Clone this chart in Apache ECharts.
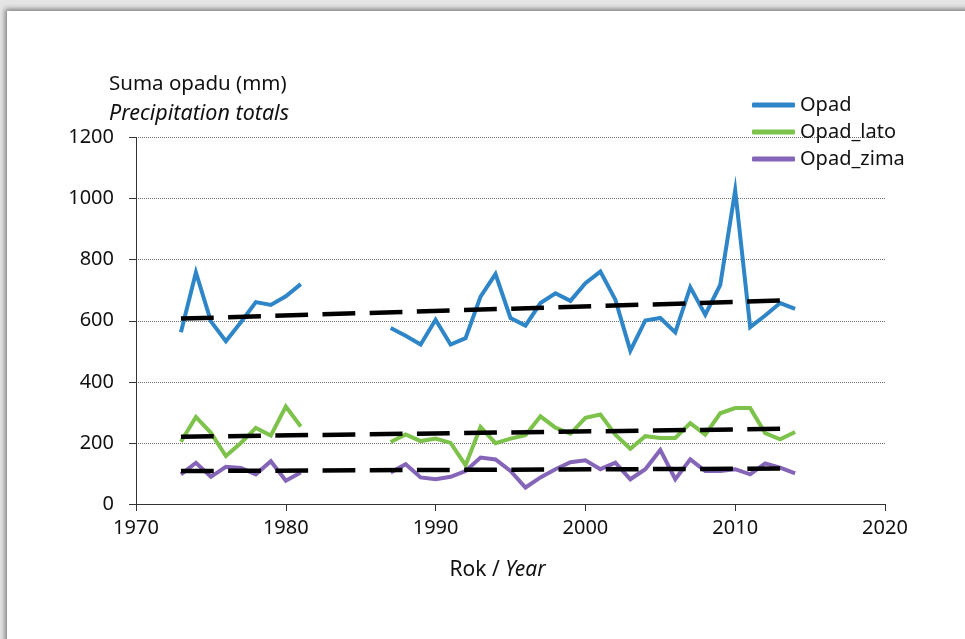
<!DOCTYPE html>
<html>
<head>
<meta charset="utf-8">
<script src="https://cdn.jsdelivr.net/npm/echarts@6/dist/echarts.min.js"></script>
<style>
  html, body { margin: 0; padding: 0; width: 965px; height: 639px; overflow: hidden; background: #e4e4e4; }
  #card { position: absolute; left: 7px; top: 11px; width: 970px; height: 640px; background: #fff;
          box-shadow: -2px -2px 5px rgba(0,0,0,0.45); }
  #chart { position: absolute; left: 0; top: 0; width: 965px; height: 639px; }
</style>
</head>
<body>
<div id="card"></div>
<div id="chart"></div>
<script>
// Years of record; 1982–1986 are missing (null)
const years = [1973,1974,1975,1976,1977,1978,1979,1980,1981,1982,1983,1984,1985,1986,
  1987,1988,1989,1990,1991,1992,1993,1994,1995,1996,1997,1998,1999,2000,
  2001,2002,2003,2004,2005,2006,2007,2008,2009,2010,2011,2012,2013,2014];

// Annual precipitation totals (mm)
const opad = [562,758,598,533,595,661,652,680,720,null,null,null,null,null,
  576,551,522,603,522,543,679,753,609,584,658,690,665,723,
  761,669,502,601,609,562,710,620,717,1027,579,617,658,639];

// Summer half-year totals (mm)
const opadLato = [204,285,233,157,200,249,224,319,254,null,null,null,null,null,
  203,228,206,214,200,127,252,199,214,225,287,250,230,282,
  293,227,181,222,216,216,265,227,297,314,314,232,212,236];

// Winter half-year totals (mm)
const opadZima = [97,135,89,122,118,97,140,76,103,null,null,null,null,null,
  103,130,87,81,89,108,152,146,108,54,87,114,137,143,
  114,135,81,114,177,81,146,108,108,114,97,133,119,100];

// Linear trend end points [year, mm]
const trendOpad = [[1973, 607], [2013, 666]];
const trendLato = [[1973, 220], [2013, 246]];
const trendZima = [[1973, 108], [2013, 116]];

// Axis ticks
const xTicks = [1970, 1980, 1990, 2000, 2010, 2020];
const yTicks = [0, 200, 400, 600, 800, 1000, 1200];

const seriesNames = ['Opad', 'Opad_lato', 'Opad_zima'];
const seriesColors = ['#2e86c9', '#7dc24a', '#8565b8'];

const pair = vals => years.map((y, i) => [y, vals[i] === null ? '-' : vals[i]]);

const FONT = 'Noto Sans';

const lineSeries = [opad, opadLato, opadZima].map((vals, i) => ({
  name: seriesNames[i],
  type: 'line',
  data: pair(vals),
  symbol: 'none',
  connectNulls: false,
  lineStyle: { width: 4, color: seriesColors[i], join: 'miter' },
  itemStyle: { color: seriesColors[i] },
  z: 2
}));

const trendSeries = [trendOpad, trendLato, trendZima].map((pts, i) => ({
  name: 'trend_' + i,
  type: 'line',
  data: pts,
  symbol: 'none',
  silent: true,
  lineStyle: { width: 4.5, color: '#000', type: [32.8, 14.4], cap: 'butt' },
  z: 3
}));

const chart = echarts.init(document.getElementById('chart'), null, { renderer: 'canvas' });
chart.setOption({
  animation: false,
  backgroundColor: 'transparent',
  textStyle: { fontFamily: FONT },
  title: {
    left: 109, top: 72, padding: 0, itemGap: 6,
    text: 'Suma opadu (mm)',
    subtext: 'Precipitation totals',
    textStyle: { fontFamily: FONT, fontSize: 20.5, fontWeight: 'normal', color: '#111', lineHeight: 24 },
    subtextStyle: { fontFamily: FONT, fontSize: 21.5, fontStyle: 'italic', color: '#111', lineHeight: 24 }
  },
  legend: {
    data: seriesNames,
    orient: 'vertical',
    left: 752, top: 95,
    padding: 0,
    itemWidth: 43, itemHeight: 5, itemGap: 7,
    icon: 'roundRect',
    textStyle: { fontFamily: FONT, fontSize: 20, color: '#111', lineHeight: 20 }
  },
  grid: { left: 136, right: 80, top: 137.5, bottom: 135, containLabel: false },
  xAxis: {
    type: 'value',
    min: xTicks[0], max: xTicks[xTicks.length - 1], interval: 10,
    name: '{a|Rok / }{b|Year}',
    nameLocation: 'middle', nameGap: 56,
    nameTextStyle: {
      padding: [0, 26, 0, 0],
      rich: {
        a: { fontFamily: FONT, fontSize: 21, color: '#111' },
        b: { fontFamily: FONT, fontSize: 21, color: '#111', fontStyle: 'italic' }
      }
    },
    axisLine: { show: true, lineStyle: { color: '#333', width: 1 } },
    axisTick: { show: true, length: 7, lineStyle: { color: '#333' } },
    axisLabel: { margin: 14, fontFamily: FONT, fontSize: 20, color: '#111', formatter: v => String(v) },
    splitLine: { show: false }
  },
  yAxis: {
    type: 'value',
    min: yTicks[0], max: yTicks[yTicks.length - 1], interval: 200,
    axisLine: { show: true, lineStyle: { color: '#333', width: 1 } },
    axisTick: { show: true, length: 7, lineStyle: { color: '#333' } },
    axisLabel: { margin: 22, fontFamily: FONT, fontSize: 20, color: '#111', formatter: v => String(v) },
    splitLine: { show: true, lineStyle: { color: '#6f6f6f', width: 1, type: [1, 1] } }
  },
  series: lineSeries.concat(trendSeries)
});
</script>
</body>
</html>
